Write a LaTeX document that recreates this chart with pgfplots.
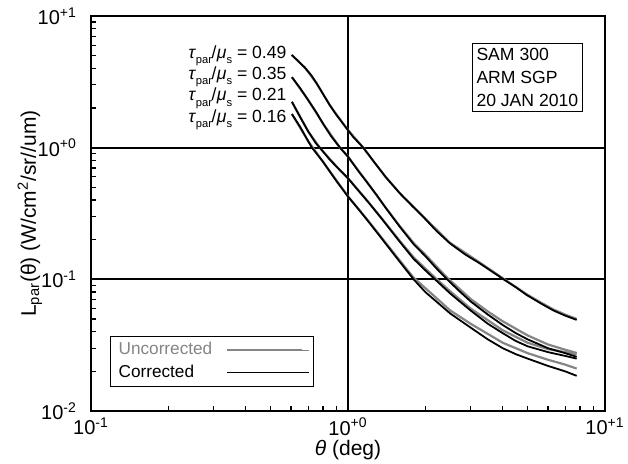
\documentclass[border=0pt]{standalone}
\usepackage{fontspec}
\setmainfont{Liberation Sans}
\usepackage{pgfplots}
\pgfplotsset{compat=1.18}

\definecolor{uncor}{gray}{0.52}

% Radiance curves, corrected
\pgfplotstableread{
x y
0.604 5.06
0.64 4.55
0.68 4.05
0.72 3.55
0.755 3.08
0.80 2.55
0.85 2.10
0.90 1.78
0.95 1.55
0.988 1.40
1.05 1.20
1.147 1.00
1.25 0.80
1.40 0.60
1.59 0.451
1.78 0.36
1.96 0.299
2.20 0.235
2.49 0.188
2.85 0.155
3.26 0.132
3.65 0.114
4.03 0.100
4.50 0.087
4.96 0.076
5.60 0.066
6.30 0.058
7.00 0.053
7.76 0.0492
}\corA
\pgfplotstableread{
x y
0.605 3.43
0.65 2.85
0.70 2.30
0.75 1.88
0.80 1.52
0.86 1.22
0.931 1.00
1.00 0.855
1.10 0.66
1.20 0.53
1.30 0.43
1.40 0.35
1.59 0.251
1.80 0.185
2.00 0.150
2.20 0.122
2.43 0.100
2.70 0.082
3.00 0.068
3.50 0.054
4.00 0.045
4.50 0.039
5.00 0.035
6.00 0.030
7.00 0.0275
7.76 0.0258
}\corB
\pgfplotstableread{
x y
0.605 2.23
0.65 1.72
0.70 1.33
0.75 1.08
0.78 0.99
0.85 0.81
0.92 0.69
1.00 0.586
1.10 0.47
1.20 0.385
1.35 0.29
1.59 0.193
1.80 0.143
2.00 0.117
2.18 0.100
2.50 0.078
3.00 0.058
3.50 0.046
4.00 0.039
4.50 0.034
5.00 0.031
6.00 0.028
7.00 0.0262
7.76 0.025
}\corC
\pgfplotstableread{
x y
0.605 1.80
0.65 1.45
0.70 1.12
0.724 1.00
0.80 0.78
0.90 0.56
1.00 0.425
1.10 0.34
1.20 0.275
1.35 0.205
1.59 0.136
1.80 0.100
2.00 0.080
2.50 0.055
3.00 0.043
3.50 0.035
4.00 0.030
4.50 0.027
5.00 0.025
6.00 0.022
7.00 0.020
7.76 0.0185
}\corD

% Radiance curves, uncorrected
\pgfplotstableread{
x y
0.604 5.06
0.68 4.05
0.755 3.08
0.85 2.10
0.988 1.40
1.147 1.00
1.25 0.80
1.40 0.60
1.59 0.452
1.96 0.301
2.49 0.190
3.26 0.134
4.03 0.101
4.96 0.077
5.60 0.067
6.30 0.059
7.00 0.054
7.76 0.0500
}\uncA
\pgfplotstableread{
x y
0.605 3.43
0.70 2.30
0.80 1.52
0.931 1.00
1.00 0.855
1.20 0.53
1.40 0.352
1.59 0.254
1.80 0.189
2.00 0.154
2.43 0.103
3.00 0.071
3.50 0.057
4.00 0.048
5.00 0.0375
6.00 0.032
7.00 0.0292
7.76 0.0276
}\uncB
\pgfplotstableread{
x y
0.605 2.23
0.70 1.33
0.78 0.99
0.92 0.69
1.00 0.586
1.20 0.387
1.35 0.292
1.59 0.196
1.80 0.147
2.18 0.103
2.50 0.081
3.00 0.060
4.00 0.041
5.00 0.033
6.00 0.0295
7.00 0.028
7.76 0.027
}\uncC
\pgfplotstableread{
x y
0.605 1.80
0.70 1.12
0.80 0.78
1.00 0.427
1.20 0.278
1.59 0.139
1.80 0.103
2.50 0.058
3.00 0.046
4.00 0.033
5.00 0.0275
6.00 0.0245
7.00 0.0225
7.76 0.021
}\uncD

% tau_par / mu_s label
\newcommand{\taulab}[1]{\textit{τ}\raisebox{-0.55ex}{\fontsize{5.6}{6}\selectfont par}\kern-0.3pt/\kern0.2pt\textit{μ}\raisebox{-0.55ex}{\fontsize{5.6}{6}\selectfont s} = #1}

\begin{document}
\begin{tikzpicture}
\begin{axis}[
  scale only axis,
  width=257pt, height=197.5pt,
  xmode=log, ymode=log,
  xmin=0.1, xmax=10, ymin=0.01, ymax=10,
  xtick={0.1,1,10},
  ytick={0.01,0.1,1,10},
  minor xtick={0.2,0.3,0.4,0.5,0.6,0.7,0.8,0.9,2,3,4,5,6,7,8,9},
  minor ytick={0.02,0.03,0.04,0.05,0.06,0.07,0.08,0.09,0.2,0.3,0.4,0.5,0.6,0.7,0.8,0.9,2,3,4,5,6,7,8,9},
  xticklabels={10\textsuperscript{-1},10\textsuperscript{+0},10\textsuperscript{+1}},
  yticklabels={10\textsuperscript{-2},10\textsuperscript{-1},10\textsuperscript{+0},10\textsuperscript{+1}},
  tick pos=left,
  tick align=inside,
  grid=major,
  major grid style={black, line width=0.9pt},
  axis line style={black, line width=1pt},
  tick style={black, line width=0.6pt},
  major tick length=4pt, minor tick length=2.6pt,
  ticklabel style={font=\fontsize{10}{11}\selectfont},
  yticklabel style={xshift=-3.5pt},
  xlabel={\textit{θ} (deg)},
  ylabel={L\textsubscript{par}(θ) (W/cm\textsuperscript{2}/sr//um)},
  label style={font=\fontsize{10.5}{12}\selectfont},
  xlabel style={at={(axis description cs:0.5,-0.098)}, anchor=center},
  ylabel style={at={(axis description cs:-0.119,0.5)}, anchor=center},
  legend plot pos=right,
  legend cell align=left,
  legend style={at={(rel axis cs:0.037,0.061)}, anchor=south west,
    draw=black, line width=0.6pt, font=\fontsize{8.6}{10}\selectfont,
    inner xsep=2pt, inner ysep=1pt, row sep=-0.5pt},
  legend image code/.code={%
    \draw[#1, line width=0.9pt] (0pt,0pt) -- (37.5pt,0pt);
    \path (37.5pt,0pt) -- (41pt,0pt);},
]
\addlegendimage{uncor}
\addlegendentry{\textcolor{uncor}{Uncorrected}\kern5pt}
\addlegendimage{black}
\addlegendentry{Corrected}

\addplot[uncor, line width=1.1pt, forget plot] table {\uncA};
\addplot[uncor, line width=1.1pt, forget plot] table {\uncB};
\addplot[uncor, line width=1.1pt, forget plot] table {\uncC};
\addplot[uncor, line width=1.1pt, forget plot] table {\uncD};
\addplot[black, line width=0.9pt, forget plot] table {\corA};
\addplot[black, line width=0.9pt, forget plot] table {\corB};
\addplot[black, line width=0.9pt, forget plot] table {\corC};
\addplot[black, line width=0.9pt, forget plot] table {\corD};

\begin{scope}[font=\fontsize{8.8}{10}\selectfont]
\node[anchor=base east, inner sep=0pt] at (rel axis cs:0.381,0.893) {\taulab{0.49}};
\node[anchor=base east, inner sep=0pt] at (rel axis cs:0.381,0.839) {\taulab{0.35}};
\node[anchor=base east, inner sep=0pt] at (rel axis cs:0.381,0.785) {\taulab{0.21}};
\node[anchor=base east, inner sep=0pt] at (rel axis cs:0.381,0.731) {\taulab{0.16}};
\end{scope}

\node[draw=black, line width=0.6pt, fill=white, align=left,
      font=\fontsize{8.8}{11.5}\selectfont, inner xsep=2pt, inner ysep=2.5pt]
  at (rel axis cs:0.849,0.844) {SAM 300\\ARM SGP\\20 JAN 2010};

\coordinate (ll) at (rel axis cs:0,0);
\coordinate (ur) at (rel axis cs:1,1);
\end{axis}
\pgfresetboundingbox
\path ([shift={(-45.5pt,-26.5pt)}]ll) rectangle ([shift={(11.5pt,8pt)}]ur);
\end{tikzpicture}
\end{document}
